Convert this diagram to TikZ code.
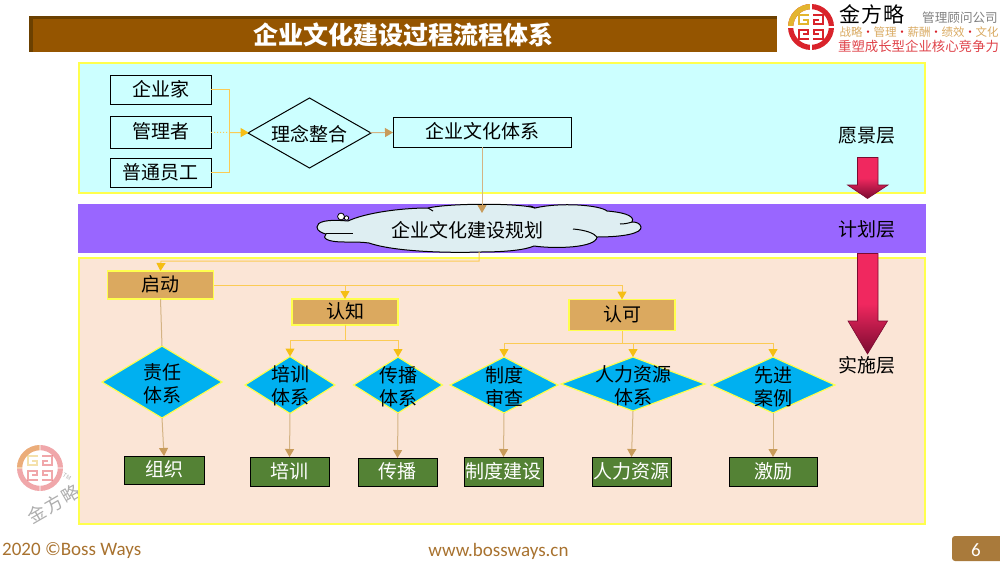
\documentclass[tikz,border=0pt]{standalone}
\usepackage{fontspec}
\setmainfont{Noto Sans CJK SC}
\newfontfamily\footfont{Carlito}
\usetikzlibrary{arrows.meta,shapes.geometric}

\definecolor{titlebrown}{HTML}{955500}
\definecolor{titledark}{HTML}{6B4000}
\definecolor{panelcyan}{HTML}{CCFFFF}
\definecolor{panelviolet}{HTML}{9966FF}
\definecolor{panelpeach}{HTML}{FBE5D6}
\definecolor{edgeyellow}{HTML}{FFFF4D}
\definecolor{phasetan}{HTML}{DBA95F}
\definecolor{diamondblue}{HTML}{00B0F0}
\definecolor{resultgreen}{HTML}{548235}
\definecolor{linegold}{HTML}{FBCB55}
\definecolor{tipgold}{HTML}{F5BE14}
\definecolor{linetan}{HTML}{D4B384}
\definecolor{tiptan}{HTML}{C89B5A}
\definecolor{cloudblue}{HTML}{DEEEF2}
\definecolor{arrowred}{HTML}{F0285F}
\definecolor{arrowdark}{HTML}{7A0A30}
\definecolor{logored}{HTML}{D9232B}
\definecolor{logogold}{HTML}{E3B52F}
\definecolor{logotan}{HTML}{D9AA62}
\definecolor{footbrown}{HTML}{A8722F}
\definecolor{tabbrown}{HTML}{A97A3B}

\newcommand{\sizept}[2]{\fontsize{#1}{#2}\selectfont}
\newcommand{\logodot}{\makebox[11pt]{\textcolor{logored}{•}}}

\tikzset{
    panel/.style={rectangle, draw=edgeyellow, line width=1.5pt, inner sep=0pt, outer sep=0pt},
    sourcebox/.style={rectangle, draw=black, line width=1pt, minimum width=101, font=\sizept{19}{23}, text height=1.3em, text depth=0pt, inner sep=0pt, outer sep=0pt},
    phasebox/.style={rectangle, draw=edgeyellow, fill=phasetan, line width=1.2pt, minimum width=106, font=\sizept{19}{23}, text height=1.3em, text depth=0pt, inner sep=0pt, outer sep=0pt},
    stagediamond/.style={diamond, aspect=1.6, draw=edgeyellow, fill=diamondblue, line width=1.2pt, inner sep=0pt, outer sep=0pt},
    stagetext/.style={align=center, font=\sizept{19}{23}, inner sep=0pt},
    resultbox/.style={rectangle, draw=black, fill=resultgreen, text=white, line width=1pt, minimum width=79, minimum height=28, font=\sizept{19}{23}, text height=1.3em, text depth=0pt, inner sep=0pt, outer sep=0pt},
    layertext/.style={font=\sizept{19}{23}, inner sep=0pt},
    goldlink/.style={draw=linegold, line width=1pt},
    goldflow/.style={goldlink, -{Triangle[length=8pt,width=9pt,color=tipgold]}},
    tanlink/.style={draw=linetan, line width=1pt},
    tanflow/.style={tanlink, -{Triangle[length=8pt,width=9pt,color=tiptan]}},
    blockarrow/.style={draw=arrowdark, line width=0.6pt, top color=arrowred, bottom color=arrowdark, middle color=arrowred},
    logomark/.pic={
        \draw[logored, line width=5.2pt] (0,0) circle (20.4pt);
        \begin{scope}
            \clip (-25,-25) rectangle (0,0);
            \draw[logogold, line width=5.2pt] (0,0) circle (20.4pt);
        \end{scope}
        \foreach \sx/\sy/\markcol in {-1/-1/logogold, 1/-1/logored, -1/1/logored, 1/1/logored}{
            \draw[\markcol, line width=2.1pt, line join=miter]
                (2*\sx,11.8*\sy) -- (12.4*\sx,11.8*\sy) -- (12.4*\sx,3*\sy) -- (2.8*\sx,3*\sy) -- (2.8*\sx,7.4*\sy) -- (8*\sx,7.4*\sy);
        }
        \fill[white] (-25,-1) rectangle (25,1);
        \fill[white] (-1,-25) rectangle (1,25);
    }
}

\begin{document}
\begin{tikzpicture}[x=1pt,y=-1pt]
    \useasboundingbox (0,0) rectangle (1000,563);

    % watermark
    \begin{scope}[opacity=0.4]
        \pic at (40,468) {logomark};
    \end{scope}
    \node[rotate=30, text=black!32, font=\sizept{18}{20}, inner sep=0pt] (markname) at (54,504) {\addfontfeature{LetterSpace=8}金方略};
    \node[rotate=-30, text=black!30, font=\sizept{6}{7}, inner sep=0pt] (marktm) at (67,477) {TM};

    % title
    \fill[titledark] (29,16) rectangle (777,52);
    \fill[titlebrown] (33,19) rectangle (777,52);
    \node[text=white, font=\bfseries\sizept{25}{29}, inner sep=0pt] (title) at (403,34.5) {企业文化建设过程流程体系};

    % logo
    \pic at (811,27) {logomark};
    \node[font=\sizept{21}{24}, inner sep=0pt] (logoname) at (872,14) {\addfontfeature{LetterSpace=6}金方略};
    \node[text=black!50, font=\sizept{12.6}{14}, inner sep=0pt] (logofirm) at (960,18) {管理顾问公司};
    \node[text=logotan, font=\sizept{11.5}{14}, inner sep=0pt] (logoline) at (919,32) {战略\logodot 管理\logodot 薪酬\logodot 绩效\logodot 文化};
    \node[text=logored!85, font=\sizept{13.4}{15}, inner sep=0pt] (logoslogan) at (918.5,46) {重塑成长型企业核心竞争力};

    % layers
    \node[panel, fill=panelcyan, minimum width=846, minimum height=130] (vision) at (502,128) {};
    \node[panel, fill=panelviolet, draw=panelviolet, minimum width=846, minimum height=47] (plan) at (502,228.5) {};
    \node[panel, fill=panelpeach, minimum width=846, minimum height=266] (act) at (502,391) {};

    % top row
    \node[sourcebox, minimum height=29] (boss) at (160.5,89.5) {企业家};
    \node[sourcebox, minimum height=32] (manager) at (160.5,132) {管理者};
    \node[sourcebox, minimum height=29] (staff) at (160.5,172.5) {普通员工};
    \node[diamond, aspect=1.75, draw=black, line width=1pt, minimum width=123, minimum height=70, inner sep=0pt, outer sep=0pt] (merge) at (309.5,133) {};
    \node[stagetext] (mergetext) at (309.5,134) {理念整合};
    \node[sourcebox, minimum width=178, minimum height=30] (system) at (482,132) {企业文化体系};

    \coordinate (sourcejoin) at (229.5,132.5);
    \draw[goldlink] (boss) -| (sourcejoin);
    \draw[goldlink] (staff) -| (sourcejoin);
    \draw[goldlink, dotted] (manager) -- (sourcejoin);
    \draw[goldflow] (sourcejoin) -- (merge);
    \draw[tanflow] (merge) -- (system);

    % planning cloud
    \draw[fill=cloudblue, draw=black, line width=1pt]
        (348,221) .. controls (325,219) and (317,222) .. (317,227)
        .. controls (317,231) and (322,233) .. (326,234)
        .. controls (322,238) and (326,242) .. (345,242)
        .. controls (355,242) and (362,242) .. (369,243)
        .. controls (395,252) and (450,253) .. (480,252)
        .. controls (505,252) and (525,250) .. (534,246)
        .. controls (555,249) and (596,248) .. (597,237)
        .. controls (625,237) and (642,233) .. (641,227)
        .. controls (640,223) and (636,222) .. (632,222)
        .. controls (636,215) and (620,212) .. (607,211)
        .. controls (600,205) and (560,202) .. (535,208)
        .. controls (520,203) and (450,203) .. (428,208)
        .. controls (400,208) and (365,213) .. (348,221) -- cycle;
    \draw[black, line width=1pt] (326,233) -- (353,233);
    \draw[black, line width=1pt] (620,224) .. controls (625,224) and (629,223) .. (632,222);
    \draw[black, line width=1pt] (573,229) .. controls (585,230) and (594,233) .. (597,237);
    \draw[black, line width=1pt] (428,208) .. controls (430,209) and (431,210) .. (433,211);
    \draw[black, line width=1pt] (535,208) .. controls (531,206) and (530,206) .. (528,206);
    \draw[fill=white, draw=black, line width=0.8pt] (346.5,218) circle (2.2pt);
    \draw[fill=white, draw=black, line width=0.8pt] (341,216.5) circle (3.4pt);
    \node[stagetext] (plantext) at (467.5,230) {企业文化建设规划};
    \coordinate (cloudtop) at (482,213);
    \coordinate (cloudbottom) at (479,252);
    \draw[tanflow] (system.south -| cloudtop) -- (cloudtop);

    % phases
    \node[phasebox, minimum height=28] (start) at (160.5,285) {启动};
    \node[phasebox, minimum height=26] (aware) at (345,312) {认知};
    \node[phasebox, minimum height=31] (accept) at (622,315) {认可};

    \coordinate (startdrop) at (161,261);
    \coordinate (awaredrop) at (345,285);
    \coordinate (awarejoin) at (345,340);
    \coordinate (acceptjoin) at (622,343);
    \draw[goldflow] (cloudbottom) |- (startdrop) -- (start.north);
    \draw[goldflow] (start.east) -| (accept.north);
    \draw[goldflow] (awaredrop) -- (aware.north);
    \draw[goldlink] (aware.south) -- (awarejoin);
    \draw[goldlink] (accept.south) -- (acceptjoin);

    % stages
    \node[stagediamond, minimum width=120, minimum height=72] (duty) at (162,382) {};
    \node[stagediamond, minimum width=90, minimum height=57] (train) at (290,385) {};
    \node[stagediamond, minimum width=89, minimum height=56] (spread) at (398,385) {};
    \node[stagediamond, minimum width=108, minimum height=56] (rule) at (504,385) {};
    \node[stagediamond, minimum width=144, minimum height=54] (people) at (633,384) {};
    \node[stagediamond, minimum width=124, minimum height=56] (sample) at (773,385) {};
    \node[stagetext] (dutytext) at (162,383.5) {责任\\体系};
    \node[stagetext] (traintext) at (290,386) {培训\\体系};
    \node[stagetext] (spreadtext) at (398,386.5) {传播\\体系};
    \node[stagetext] (ruletext) at (504,386.5) {制度\\审查};
    \node[stagetext] (peopletext) at (633,385.5) {人力资源\\体系};
    \node[stagetext] (sampletext) at (773,386.5) {先进\\案例};

    \draw[goldflow] (awarejoin) -| (train.north);
    \draw[goldflow] (awarejoin) -| (spread.north);
    \draw[goldflow] (acceptjoin) -| (rule.north);
    \draw[goldflow] (acceptjoin) -| (people.north);
    \draw[goldflow] (acceptjoin) -| (sample.north);
    \draw[tanlink] (start.south) -- (duty.north);

    % results
    \node[resultbox, minimum width=80] (org) at (164,470) {组织};
    \node[resultbox, minimum height=29] (trainres) at (289.5,471.5) {培训};
    \node[resultbox] (spreadres) at (397.5,472) {传播};
    \node[resultbox, minimum height=29] (ruleres) at (503.5,471.5) {制度建设};
    \node[resultbox, minimum height=29] (peopleres) at (631.5,471.5) {人力资源};
    \node[resultbox, minimum width=88, minimum height=29] (sampleres) at (773,471.5) {激励};

    \draw[tanflow] (duty.south) -- (org.north);
    \draw[tanflow] (train.south) -- (trainres.north);
    \draw[tanflow] (spread.south) -- (spreadres.north);
    \draw[tanflow] (rule.south) -- (ruleres.north);
    \draw[tanflow] (people.south) -- (peopleres.north);
    \draw[tanflow] (sample.south) -- (sampleres.north);

    % layer names
    \node[layertext] (visionname) at (867,135.5) {愿景层};
    \node[layertext] (planname) at (867,229.5) {计划层};
    \node[layertext] (actname) at (867,365.5) {实施层};
    \path[blockarrow] (857.5,157.5) -- (878,157.5) -- (878,185) -- (888,185) -- (867.5,198.5) -- (847.5,185) -- (857.5,185) -- cycle;
    \path[blockarrow] (857.5,253.5) -- (878,253.5) -- (878,321) -- (887.5,321) -- (867.5,354) -- (848,321) -- (857.5,321) -- cycle;

    % footer
    \node[anchor=west, text=footbrown, font=\footfont\sizept{19}{22}, inner sep=0pt] (year) at (2,551) {2020 ©Boss Ways};
    \node[text=footbrown, font=\footfont\sizept{19}{22}, inner sep=0pt] (site) at (498.5,551) {www.bossways.cn};
    \begin{scope}
        \clip (940,530) rectangle (1000,563);
        \node[rectangle, fill=tabbrown, rounded corners=3pt, minimum width=60, minimum height=25, text=white, inner sep=0pt] (tab) at (982,548.5) {};
    \end{scope}
    \node[text=white, font=\footfont\sizept{19}{22}, inner sep=0pt] (pagenum) at (976,550) {6};
\end{tikzpicture}
\end{document}
